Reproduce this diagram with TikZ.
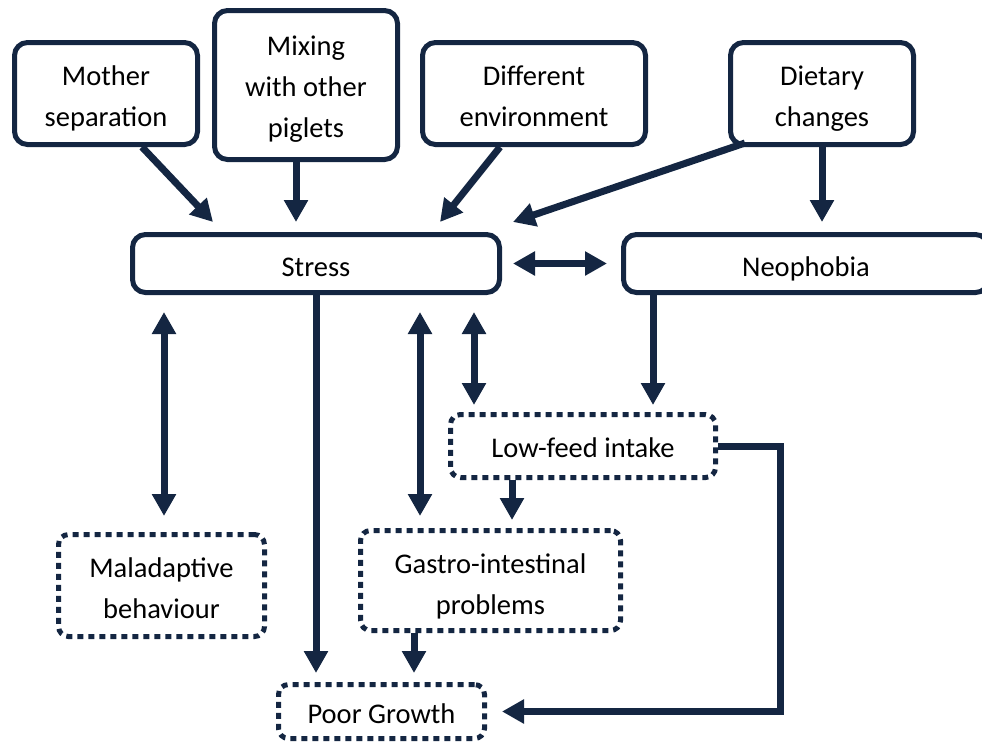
\documentclass[tikz,border=0pt]{standalone}
\usepackage{fontspec}
\setmainfont{Carlito}
\usetikzlibrary{arrows.meta,calc}
\definecolor{navy}{RGB}{20,38,66}
\begin{document}
\begin{tikzpicture}[x=1pt,y=-1pt,
  font=\fontsize{28.5}{41}\selectfont,
  solidbox/.style={draw=navy,line width=5pt,rounded corners=13pt,inner sep=0pt,align=center},
  dotbox/.style={draw=navy,line width=5pt,dash pattern=on 6pt off 5pt,rounded corners=10pt,inner sep=0pt,align=center},
  lone/.style={text height=#1,text depth=0pt},
  arr/.style={draw=navy,line width=7pt,-{Triangle[width=23pt,length=22pt]}},
  darr/.style={draw=navy,line width=7pt,{Triangle[width=23pt,length=22pt]}-{Triangle[width=23pt,length=22pt]}}]
\useasboundingbox (0,0) rectangle (982,742);
\clip (0,0) rectangle (982,742);

% boxes
\node[solidbox,lone=65pt,minimum width=183pt,minimum height=102pt] (mother) at (106,93.5) {Mother\\separation};
\node[solidbox,lone=104pt,minimum width=183pt,minimum height=149pt] (mix) at (306,85) {Mixing\\with other\\piglets};
\node[solidbox,lone=65pt,minimum width=223pt,minimum height=102pt] (diff) at (534,93.5) {Different\\environment};
\node[solidbox,lone=65pt,minimum width=183pt,minimum height=102pt] (diet) at (822,93.5) {Dietary\\changes};
\node[solidbox,lone=25pt,minimum width=367pt,minimum height=58pt] (stress) at (316,263.5) {Stress};
\node[solidbox,lone=25pt,minimum width=365pt,minimum height=58pt] (neo) at (806,263.5) {Neophobia};
\node[dotbox,lone=22pt,minimum width=265pt,minimum height=63pt] (low) at (583,446) {Low-feed intake};
\node[dotbox,lone=65pt,minimum width=206pt,minimum height=102pt] (mal) at (161.5,585.5) {Maladaptive\\behaviour};
\node[dotbox,lone=67pt,minimum width=260pt,minimum height=100pt] (gastro) at (490.5,580.5) {Gastro-intestinal\\problems};
\node[dotbox,lone=23pt,minimum width=206pt,minimum height=54pt] (poor) at (381.5,711.5) {Poor Growth};

% connectors into Stress
\draw[arr] ($(mother.south)+(36,0)$) -- ($(stress.north west)+(83,-10)$);
\draw[arr] ($(mix.south)+(-10,0)$) -- ($(stress.north west)+(166,-10)$);
\draw[arr] ($(diff.south)+(-34,0)$) -- ($(stress.north west)+(310,-10)$);
\draw[arr] ($(diet.south west)+(17,-4)$) -- ($(stress.north east)+(11,-10)$);
\draw[arr] (diet.south) -- ($(diet.south |- neo.north)+(0,-10)$);
\draw[darr] ($(stress.east)+(11,0)$) -- ($(neo.west)+(-14,0)$);

% below Stress
\coordinate (p1) at ($(stress.south west)+(34,17)$);
\draw[darr] (p1) -- ($(p1 |- mal.north)+(0,-16)$);
\draw[arr] (stress.south) -- ($(stress.south |- poor.north)+(0,-9)$);
\coordinate (p2) at ($(stress.south west)+(290,17)$);
\draw[darr] (p2) -- ($(p2 |- gastro.north)+(0,-12)$);
\coordinate (p3) at ($(stress.south west)+(344,17)$);
\draw[darr] (p3) -- ($(p3 |- low.north)+(0,-7)$);

% Neophobia and Low-feed
\draw[arr] ($(neo.south west)+(32,0)$) -- ($(neo.south west |- low.north)+(32,-7)$);
\draw[arr] ($(low.south)+(-71,0)$) -- ($(low.south |- gastro.north)+(-71,-8)$);
\draw[arr] ($(gastro.south)+(-76.5,0)$) -- ($(gastro.south |- poor.north)+(-76.5,-9)$);
\draw[arr] (low.east) -- ++(62,0) |- ($(poor.east)+(15,0)$);
\end{tikzpicture}
\end{document}
